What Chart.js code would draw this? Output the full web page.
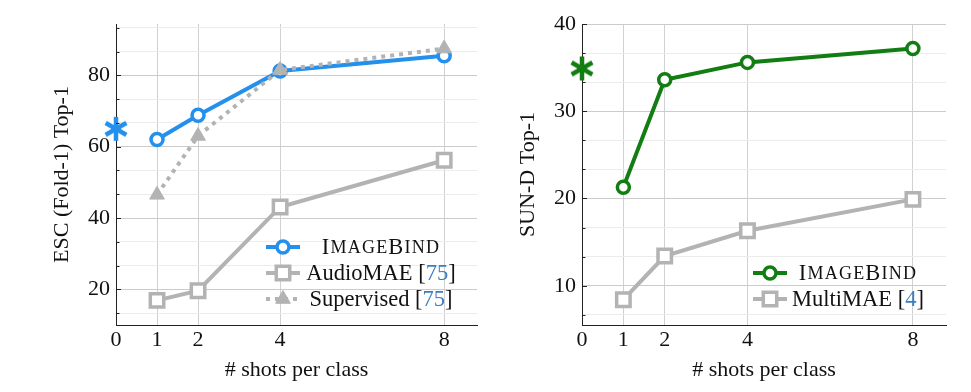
<!DOCTYPE html>
<html>
<head>
<meta charset="utf-8">
<script src="https://cdn.jsdelivr.net/npm/chart.js@4.4.0/dist/chart.umd.min.js"></script>
<style>
    html, body { margin: 0; padding: 0; background: #fff; }
    #wrap { position: relative; width: 971px; height: 392px; }
    #escChart { position: absolute; left: 0; top: 0; }
    #sunChart { position: absolute; left: 490px; top: 0; }
</style>
</head>
<body>
<div id="wrap">
    <canvas id="escChart" width="490" height="392"></canvas>
    <canvas id="sunChart" width="481" height="392"></canvas>
</div>
<script>
// shared x values
var shots = [1, 2, 4, 8];
var xTicks = [0, 1, 2, 4, 8];

// ESC panel (audio)
var escImageBind = [62.0, 68.8, 81.2, 85.5];
var escAudioMAE = [16.9, 19.6, 43.1, 56.2];
var escSupervised = [46.5, 63.0, 81.5, 87.5];
var escZeroShot = 65.0;
var escYLabels = [20, 40, 60, 80];

// SUN-D panel (depth)
var sunImageBind = [21.3, 33.6, 35.6, 37.2];
var sunMultiMAE = [8.4, 13.4, 16.3, 19.9];
var sunZeroShot = 34.9;
var sunYLabels = [10, 20, 30, 40];

var BLUE = '#2490ee';
var GREEN = '#127d12';
var GRAY = '#b3b3b3';
var CITE = '#3b7fbf';
var FONT = '"Liberation Serif", "DejaVu Serif", serif';

function toPoints(values) {
    return values.map(function (v, i) { return { x: shots[i], y: v }; });
}

function makeAsterisk(color) {
    var c = document.createElement('canvas');
    c.width = 28; c.height = 28;
    var g = c.getContext('2d');
    g.strokeStyle = color;
    g.lineWidth = 4.5;
    g.translate(14, 14);
    for (var i = 0; i < 3; i++) {
        var a = Math.PI / 2 + i * Math.PI / 3;
        g.beginPath();
        g.moveTo(Math.cos(a) * 12, Math.sin(a) * 12);
        g.lineTo(-Math.cos(a) * 12, -Math.sin(a) * 12);
        g.stroke();
    }
    return c;
}

function yTickValues(labels, min, max) {
    var step = (labels[1] - labels[0]) / 3;
    var start = labels[0];
    while (start - step > min) start -= step;
    var vals = [];
    for (var v = start; v <= max + 1e-6; v += step) vals.push(Math.round(v * 1000) / 1000);
    return vals;
}

function isMajor(labels, v) {
    return labels.some(function (l) { return Math.abs(l - v) < 0.01; });
}

function lineSet(label, values, color, style, extra) {
    var ds = {
        label: label,
        data: toPoints(values),
        borderColor: color,
        backgroundColor: style === 'triangle' ? color : '#fff',
        borderWidth: 4,
        pointStyle: style,
        pointRadius: style === 'rect' ? 9.5 : (style === 'triangle' ? 8.5 : 6),
        pointBorderWidth: style === 'triangle' ? 1 : 3.5,
        pointBorderColor: color,
        pointBackgroundColor: style === 'triangle' ? color : '#fff',
        borderCapStyle: 'butt',
        tension: 0,
        clip: false
    };
    for (var k in extra) ds[k] = extra[k];
    return ds;
}

// little inward tick marks on the y axis, like pgfplots
var yAxisTicks = {
    id: 'yAxisTicks',
    afterDraw: function (chart) {
        var y = chart.scales.y, ctx = chart.ctx, left = chart.chartArea.left;
        var labels = chart.options.plugins.yAxisTicks.labels;
        ctx.save();
        ctx.strokeStyle = '#222';
        ctx.lineWidth = 1;
        y.ticks.forEach(function (t) {
            var py = Math.round(y.getPixelForValue(t.value)) + 0.5;
            var len = isMajor(labels, t.value) ? 5 : 3.5;
            ctx.beginPath();
            ctx.moveTo(left, py);
            ctx.lineTo(left + len, py);
            ctx.stroke();
        });
        ctx.restore();
    }
};

// legend drawn inside the plot area, bottom right
var inlineLegend = {
    id: 'inlineLegend',
    afterDraw: function (chart) {
        var cfg = chart.options.plugins.inlineLegend;
        var ctx = chart.ctx, area = chart.chartArea;
        var sx = area.right + cfg.sampleX, tx = area.right + cfg.textX;
        ctx.save();
        cfg.rows.forEach(function (row, i) {
            var ds = chart.data.datasets[row.dataset];
            var y = area.bottom + cfg.rowY[i];
            // line sample
            ctx.strokeStyle = ds.borderColor;
            ctx.lineWidth = ds.borderWidth;
            ctx.setLineDash(ds.borderDash || []);
            ctx.beginPath();
            ctx.moveTo(sx - 17, y);
            ctx.lineTo(sx + 17, y);
            ctx.stroke();
            ctx.setLineDash([]);
            // marker
            ctx.lineWidth = ds.pointBorderWidth;
            ctx.fillStyle = ds.pointBackgroundColor;
            ctx.strokeStyle = ds.pointBorderColor;
            var r = ds.pointRadius;
            ctx.beginPath();
            if (ds.pointStyle === 'circle') {
                ctx.arc(sx, y, r, 0, Math.PI * 2);
            } else if (ds.pointStyle === 'rect') {
                var s = r * Math.SQRT1_2;
                ctx.rect(sx - s, y - s, 2 * s, 2 * s);
            } else {
                ctx.moveTo(sx, y - r);
                ctx.lineTo(sx + r * 0.866, y + r * 0.5);
                ctx.lineTo(sx - r * 0.866, y + r * 0.5);
                ctx.closePath();
            }
            ctx.fill();
            ctx.stroke();
            // text pieces, centred on tx
            ctx.textBaseline = 'middle';
            ctx.textAlign = 'left';
            var widths = row.parts.map(function (p) {
                ctx.font = p.size + 'px ' + FONT;
                return ctx.measureText(p.text).width + (p.spacing || 0) * p.text.length;
            });
            var total = widths.reduce(function (a, b) { return a + b; }, 0);
            var x = tx - total / 2;
            row.parts.forEach(function (p, j) {
                ctx.font = p.size + 'px ' + FONT;
                ctx.fillStyle = p.color || '#111';
                if (p.spacing) {
                    for (var c = 0; c < p.text.length; c++) {
                        ctx.fillText(p.text[c], x, y + 1);
                        x += ctx.measureText(p.text[c]).width + p.spacing;
                    }
                } else {
                    ctx.fillText(p.text, x, y + 1);
                    x += widths[j];
                }
            });
        });
        ctx.restore();
    }
};

var imageBindParts = [
    { text: 'I', size: 22.5, spacing: 1.2 },
    { text: 'MAGE', size: 18, spacing: 1.2 },
    { text: 'B', size: 22.5, spacing: 1.2 },
    { text: 'IND', size: 18, spacing: 1.2 }
];

function buildPanel(canvasId, p) {
    var ctx = document.getElementById(canvasId).getContext('2d');
    var ticksY = yTickValues(p.yLabels, p.yMin, p.yMax);
    return new Chart(ctx, {
        type: 'line',
        data: { datasets: p.datasets },
        plugins: [yAxisTicks, inlineLegend],
        options: {
            responsive: false,
            devicePixelRatio: 1,
            animation: false,
            layout: { padding: { left: 0, right: p.padRight, top: 24, bottom: 0 } },
            plugins: {
                legend: { display: false },
                tooltip: { enabled: false },
                yAxisTicks: { labels: p.yLabels },
                inlineLegend: p.legend
            },
            scales: {
                x: {
                    type: 'linear',
                    min: 0,
                    max: 8.8,
                    afterBuildTicks: function (scale) {
                        scale.ticks = xTicks.map(function (v) { return { value: v }; });
                    },
                    afterFit: function (scale) { scale.height = 67; },
                    ticks: {
                        autoSkip: false,
                        maxRotation: 0,
                        padding: 2,
                        color: '#111',
                        font: { family: FONT, size: 22 },
                        callback: function (v) { return String(v); }
                    },
                    grid: {
                        color: function (c) { return c.tick && c.tick.value === 0 ? 'rgba(0,0,0,0)' : '#d0d0d0'; },
                        lineWidth: 1,
                        drawTicks: false
                    },
                    border: { color: '#222', width: 1 },
                    title: {
                        display: true,
                        text: '# shots per class',
                        color: '#111',
                        font: { family: FONT, size: 22 },
                        padding: { top: 0, bottom: 9 }
                    }
                },
                y: {
                    type: 'linear',
                    min: p.yMin,
                    max: p.yMax,
                    afterBuildTicks: function (scale) {
                        scale.ticks = ticksY.map(function (v) { return { value: v }; });
                    },
                    afterFit: function (scale) { scale.width = p.yWidth; },
                    ticks: {
                        autoSkip: false,
                        padding: 6,
                        color: '#111',
                        font: { family: FONT, size: 22 },
                        callback: function (v) { return isMajor(p.yLabels, v) ? String(Math.round(v)) : ''; }
                    },
                    grid: {
                        color: function (c) {
                            return c.tick && isMajor(p.yLabels, c.tick.value) ? '#cbcbcb' : '#ececec';
                        },
                        lineWidth: 1,
                        drawTicks: false
                    },
                    border: { color: '#222', width: 1 },
                    title: {
                        display: true,
                        text: p.yTitle,
                        color: '#111',
                        font: { family: FONT, size: 22 },
                        padding: { top: p.yTitlePad, bottom: 0 }
                    }
                }
            }
        }
    });
}

buildPanel('escChart', {
    yMin: 10, yMax: 94.4, yLabels: escYLabels,
    yTitle: 'ESC (Fold-1) Top-1', yWidth: 116, yTitlePad: 49, padRight: 10,
    datasets: [
        lineSet('Supervised', escSupervised, GRAY, 'triangle', { borderDash: [4, 5], order: 1 }),
        lineSet('ImageBind', escImageBind, BLUE, 'circle', { order: 2 }),
        lineSet('AudioMAE', escAudioMAE, GRAY, 'rect', { order: 3 }),
        { data: [{ x: 0, y: escZeroShot }], showLine: false, pointStyle: makeAsterisk(BLUE), clip: false, order: 0 }
    ],
    legend: {
        sampleX: -194, textX: -96, rowY: [-78, -52, -26],
        rows: [
            { dataset: 1, parts: imageBindParts },
            { dataset: 2, parts: [{ text: 'AudioMAE [', size: 22.5 }, { text: '75', size: 22.5, color: CITE }, { text: ']', size: 22.5 }] },
            { dataset: 0, parts: [{ text: 'Supervised [', size: 22.5 }, { text: '75', size: 22.5, color: CITE }, { text: ']', size: 22.5 }] }
        ]
    }
});

buildPanel('sunChart', {
    yMin: 5.5, yMax: 40, yLabels: sunYLabels,
    yTitle: 'SUN-D Top-1', yWidth: 92, yTitlePad: 25, padRight: 25,
    datasets: [
        lineSet('ImageBind', sunImageBind, GREEN, 'circle', { order: 1 }),
        lineSet('MultiMAE', sunMultiMAE, GRAY, 'rect', { order: 2 }),
        { data: [{ x: 0, y: sunZeroShot }], showLine: false, pointStyle: makeAsterisk(GREEN), clip: false, order: 0 }
    ],
    legend: {
        sampleX: -176, textX: -88, rowY: [-52, -26],
        rows: [
            { dataset: 0, parts: imageBindParts },
            { dataset: 1, parts: [{ text: 'MultiMAE [', size: 22.5 }, { text: '4', size: 22.5, color: CITE }, { text: ']', size: 22.5 }] }
        ]
    }
});
</script>
</body>
</html>
